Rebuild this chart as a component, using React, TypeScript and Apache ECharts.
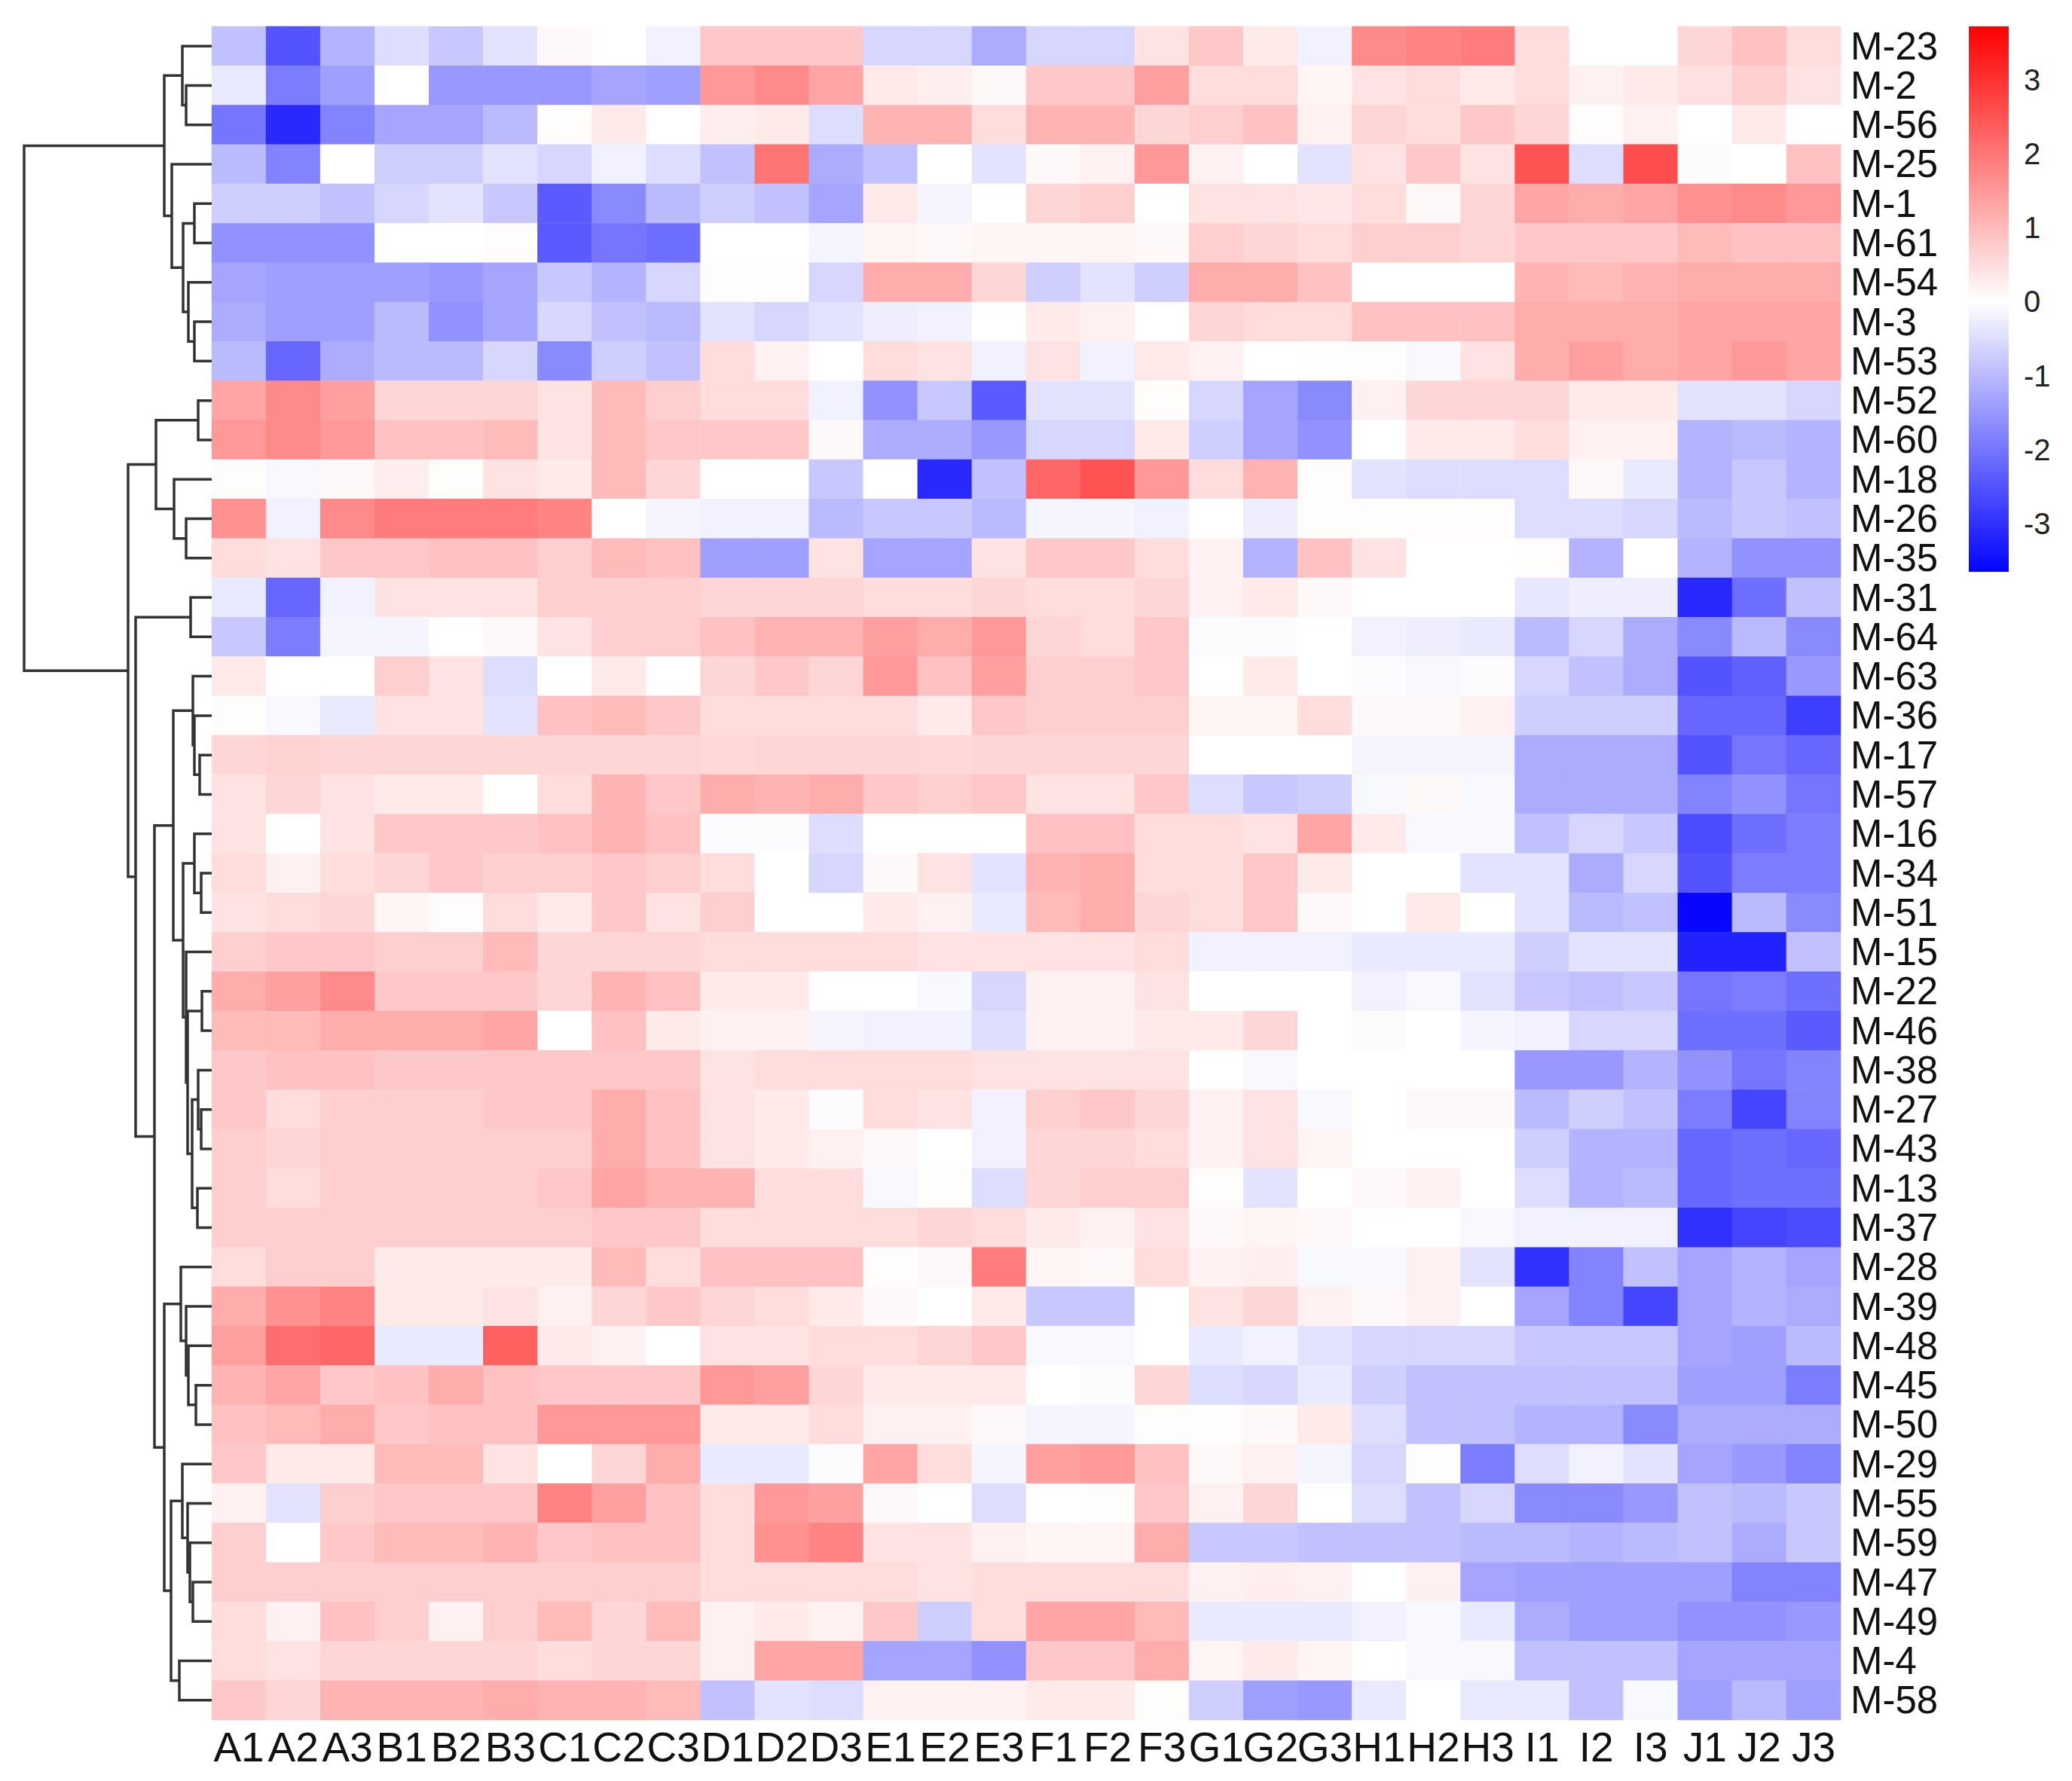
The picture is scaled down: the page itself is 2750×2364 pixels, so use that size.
import React, { useEffect, useRef } from "react";
import * as echarts from "echarts";

const COLS = ["A1","A2","A3","B1","B2","B3","C1","C2","C3","D1","D2","D3","E1","E2","E3","F1","F2","F3","G1","G2","G3","H1","H2","H3","I1","I2","I3","J1","J2","J3"];

const ROWS = ["M-23","M-2","M-56","M-25","M-1","M-61","M-54","M-3","M-53","M-52","M-60","M-18","M-26","M-35","M-31","M-64","M-63","M-36","M-17","M-57","M-16","M-34","M-51","M-15","M-22","M-46","M-38","M-27","M-43","M-13","M-37","M-28","M-39","M-48","M-45","M-50","M-29","M-55","M-59","M-47","M-49","M-4","M-58"];

// values per row (same order as ROWS), columns as COLS
const VALUES: number[][] = [
  /* M-23 */ [-0.9,-2.5,-1.1,-0.5,-0.8,-0.4,0.1,0,-0.2,0.8,0.8,0.8,-0.6,-0.6,-1.2,-0.6,-0.6,0.4,0.8,0.3,-0.2,1.7,1.8,1.9,0.5,0,0,0.6,0.9,0.5],
  /* M-2 */  [-0.3,-1.9,-1.4,0,-1.5,-1.5,-1.5,-1.3,-1.4,1.5,1.7,1.3,0.3,0.25,0.1,0.8,0.8,1.4,0.5,0.5,0.15,0.4,0.5,0.3,0.5,0.2,0.3,0.45,0.7,0.4],
  /* M-56 */ [-2.0,-3.1,-1.8,-1.3,-1.3,-1.0,0.05,0.3,0,0.25,0.3,-0.5,1.1,1.1,0.5,1.1,1.1,0.6,0.7,0.9,0.2,0.6,0.5,0.8,0.6,0.05,0.2,0,0.3,0],
  /* M-25 */ [-1.0,-1.8,0,-0.7,-0.7,-0.4,-0.6,-0.2,-0.5,-0.9,2.0,-1.2,-0.9,0,-0.4,0.1,0.2,1.5,0.2,0,-0.4,0.4,0.8,0.4,2.5,-0.5,2.6,-0.05,0,0.9],
  /* M-1 */  [-0.7,-0.7,-0.9,-0.6,-0.4,-0.8,-2.4,-1.7,-1.0,-0.7,-0.9,-1.3,0.3,-0.15,0,0.6,0.7,0,0.4,0.4,0.35,0.5,0.1,0.6,1.3,1.2,1.3,1.6,1.7,1.5],
  /* M-61 */ [-1.6,-1.6,-1.6,0,0,0.05,-2.4,-2.0,-2.1,0,0,-0.15,0.15,0.1,0.15,0.15,0.15,0.1,0.7,0.6,0.5,0.7,0.7,0.6,0.8,0.8,0.8,1.0,0.9,0.9],
  /* M-54 */ [-1.3,-1.4,-1.4,-1.4,-1.5,-1.3,-0.8,-1.1,-0.6,0.05,0.05,-0.6,1.2,1.2,0.6,-0.7,-0.4,-0.7,1.2,1.2,0.9,0,0,0,1.1,1.0,1.1,1.2,1.2,1.2],
  /* M-3 */  [-1.2,-1.4,-1.4,-1.0,-1.6,-1.3,-0.6,-0.9,-1.0,-0.4,-0.6,-0.4,-0.25,-0.2,0,0.3,0.2,0,0.6,0.5,0.5,0.9,0.9,0.9,1.2,1.2,1.2,1.3,1.3,1.3],
  /* M-53 */ [-1.0,-2.2,-1.2,-1.0,-1.0,-0.6,-1.7,-0.7,-0.9,0.5,0.2,0,0.5,0.4,-0.2,0.4,-0.2,0.3,0.2,0,0.05,0.05,-0.1,0.4,1.2,1.4,1.2,1.3,1.5,1.3],
  /* M-52 */ [1.3,1.7,1.4,0.6,0.6,0.6,0.4,1.0,0.7,0.5,0.5,-0.2,-1.6,-0.8,-2.4,-0.4,-0.4,0.05,-0.6,-1.3,-1.7,0.2,0.6,0.6,0.6,0.3,0.3,-0.4,-0.4,-0.6],
  /* M-60 */ [1.5,1.7,1.5,0.9,0.9,1.0,0.4,1.0,0.8,0.8,0.8,0.1,-1.2,-1.2,-1.5,-0.6,-0.6,0.3,-0.7,-1.3,-1.6,0,0.3,0.3,0.5,0.2,0.2,-1.1,-1.0,-1.1],
  /* M-18 */ [0.05,-0.1,0.1,0.25,0.05,0.4,0.3,1.0,0.6,0,0,-0.8,0,-3.1,-0.9,2.2,2.5,1.5,0.5,1.1,0.05,-0.4,-0.5,-0.5,-0.5,0.1,-0.3,-1.1,-0.8,-1.1],
  /* M-26 */ [1.6,-0.2,1.7,1.9,1.9,1.9,1.8,0,-0.15,-0.2,-0.2,-1.0,-0.8,-0.8,-1.0,-0.15,-0.15,-0.2,0,-0.25,0.05,0.05,0.05,0.05,-0.5,-0.5,-0.6,-1.0,-0.8,-0.9],
  /* M-35 */ [0.5,0.4,0.8,0.8,0.9,0.9,0.7,1.0,0.9,-1.4,-1.4,0.4,-1.3,-1.3,0.4,0.8,0.8,0.5,0.2,-1.1,0.9,0.4,0,0,0.05,-1.1,0,-1.1,-1.6,-1.6],
  /* M-31 */ [-0.3,-2.2,-0.2,0.4,0.4,0.4,0.7,0.7,0.7,0.6,0.6,0.6,0.5,0.5,0.6,0.5,0.5,0.6,0.2,0.3,0.1,0,0,0,-0.35,-0.25,-0.25,-3.1,-2.1,-0.9],
  /* M-64 */ [-0.8,-1.9,-0.15,-0.15,0,0.1,0.4,0.7,0.7,0.9,1.1,1.1,1.4,1.2,1.5,0.6,0.5,0.8,-0.05,-0.05,0,-0.2,-0.25,-0.3,-1.0,-0.6,-1.2,-1.7,-1.0,-1.7],
  /* M-63 */ [0.3,0,0,0.7,0.4,-0.5,0,0.3,0,0.6,0.8,0.6,1.5,0.9,1.4,0.7,0.7,0.8,0,0.3,0,-0.05,-0.1,-0.05,-0.6,-0.9,-1.2,-2.5,-2.3,-1.5],
  /* M-36 */ [0.05,-0.1,-0.3,0.4,0.4,-0.4,0.9,1.0,0.8,0.5,0.5,0.5,0.5,0.3,0.8,0.7,0.7,0.7,0.15,0.15,0.5,0.1,0.1,0.2,-0.7,-0.7,-0.7,-2.2,-2.2,-2.8],
  /* M-17 */ [0.6,0.65,0.6,0.6,0.6,0.6,0.6,0.6,0.6,0.55,0.6,0.6,0.6,0.55,0.6,0.6,0.6,0.6,0,0,0,-0.15,-0.15,-0.15,-1.2,-1.2,-1.2,-2.5,-2.0,-2.2],
  /* M-57 */ [0.4,0.6,0.4,0.3,0.3,0,0.5,1.1,0.8,1.2,1.1,1.2,0.8,0.7,0.8,0.4,0.4,0.8,-0.5,-0.8,-0.7,-0.1,0.1,-0.1,-1.2,-1.2,-1.2,-1.8,-1.6,-2.0],
  /* M-16 */ [0.4,0,0.4,0.8,0.8,0.8,0.9,1.1,0.9,-0.05,-0.05,-0.5,0,0,0,0.9,0.9,0.5,0.5,0.4,1.3,0.3,-0.1,-0.1,-0.9,-0.6,-0.8,-2.6,-2.1,-1.9],
  /* M-34 */ [0.5,0.2,0.5,0.6,0.8,0.7,0.7,0.8,0.7,0.5,0,-0.6,0.1,0.4,-0.4,1.1,1.2,0.5,0.5,0.8,0.3,0,0,-0.4,-0.4,-1.2,-0.6,-2.5,-1.9,-1.9],
  /* M-51 */ [0.4,0.5,0.6,0.15,0.05,0.5,0.3,0.8,0.4,0.7,0,0,0.3,0.2,-0.3,1.0,1.2,0.6,0.5,0.8,0.1,0,0.3,0,-0.4,-1.0,-0.9,-3.6,-1.0,-1.7],
  /* M-15 */ [0.7,0.8,0.8,0.7,0.7,1.0,0.6,0.6,0.6,0.5,0.5,0.5,0.5,0.4,0.4,0.4,0.4,0.5,-0.2,-0.2,-0.2,-0.3,-0.3,-0.3,-0.7,-0.4,-0.4,-3.2,-3.2,-0.9],
  /* M-22 */ [1.2,1.4,1.7,0.8,0.8,0.8,0.6,1.1,0.9,0.3,0.3,0,0,-0.1,-0.6,0.2,0.2,0.4,0,0,0,-0.2,-0.1,-0.4,-0.8,-0.9,-0.8,-2.0,-1.9,-2.1],
  /* M-46 */ [1.0,1.0,1.2,1.2,1.2,1.3,0,0.9,0.3,0.2,0.2,-0.15,-0.2,-0.2,-0.5,0.2,0.2,0.3,0.3,0.6,0,-0.05,0,-0.15,-0.2,-0.6,-0.6,-2.1,-2.1,-2.4],
  /* M-38 */ [0.8,0.9,0.9,0.8,0.8,0.8,0.8,0.8,0.8,0.4,0.5,0.5,0.5,0.5,0.4,0.4,0.4,0.4,0,-0.1,0,0,0,0,-1.5,-1.5,-1.1,-1.6,-2.0,-1.8],
  /* M-27 */ [0.8,0.5,0.7,0.7,0.7,0.8,0.8,1.2,0.9,0.4,0.3,-0.05,0.5,0.4,-0.2,0.7,0.8,0.6,0.2,0.4,-0.1,0,0.1,0.1,-1.0,-0.7,-0.9,-1.9,-2.7,-1.8],
  /* M-43 */ [0.7,0.6,0.7,0.7,0.7,0.7,0.7,1.2,0.9,0.4,0.3,0.2,0.1,0,-0.2,0.6,0.6,0.5,0.2,0.4,0.15,0,0,0,-0.7,-1.1,-1.1,-2.2,-2.1,-2.2],
  /* M-13 */ [0.7,0.5,0.7,0.7,0.7,0.7,0.8,1.3,1.1,1.1,0.5,0.5,-0.1,0.05,-0.5,0.6,0.7,0.7,0.05,-0.4,0,0.1,0.2,0,-0.5,-1.1,-1.0,-2.2,-2.1,-2.1],
  /* M-37 */ [0.7,0.7,0.7,0.7,0.7,0.7,0.7,0.8,0.8,0.5,0.5,0.5,0.5,0.6,0.5,0.3,0.2,0.4,0.1,0.15,0.1,0,0,-0.1,-0.2,-0.2,-0.2,-3.0,-2.7,-2.6],
  /* M-28 */ [0.5,0.7,0.7,0.3,0.3,0.3,0.3,1.0,0.5,0.9,0.9,0.9,0.05,0.1,1.9,0.15,0.1,0.5,0.2,0.25,-0.1,-0.1,0.2,-0.4,-3.0,-1.8,-0.9,-1.3,-1.1,-1.3],
  /* M-39 */ [1.2,1.6,1.8,0.3,0.3,0.4,0.2,0.6,0.8,0.6,0.5,0.3,0.1,0,0.3,-0.8,-0.8,0,0.4,0.6,0.2,0.1,0.2,0,-1.3,-1.8,-2.7,-1.3,-1.1,-1.2],
  /* M-48 */ [1.4,2.1,2.2,-0.3,-0.3,2.3,0.3,0.2,0,0.4,0.4,0.5,0.5,0.6,0.8,-0.1,-0.1,0,-0.3,-0.2,-0.4,-0.6,-0.6,-0.6,-0.8,-0.8,-0.8,-1.3,-1.4,-1.0],
  /* M-45 */ [1.1,1.3,0.8,0.9,1.2,0.9,0.8,0.8,0.8,1.5,1.4,0.6,0.3,0.3,0.3,0,-0.05,0.6,-0.5,-0.6,-0.3,-0.7,-0.9,-0.9,-0.9,-0.9,-0.9,-1.4,-1.4,-1.9],
  /* M-50 */ [0.9,1.0,1.2,0.8,0.9,0.9,1.5,1.5,1.5,0.3,0.3,0.5,0.2,0.2,0.1,-0.15,-0.15,0.05,0.05,0.1,0.3,-0.5,-0.9,-0.9,-1.1,-1.1,-1.7,-1.2,-1.2,-1.2],
  /* M-29 */ [0.8,0.3,0.3,1.0,1.0,0.4,0,0.6,1.2,-0.3,-0.3,-0.05,1.3,0.5,-0.15,1.4,1.5,0.9,0.1,0.2,-0.15,-0.6,0.05,-1.9,-0.5,-0.2,-0.4,-1.3,-1.5,-1.8],
  /* M-55 */ [0.2,-0.4,0.7,0.8,0.8,0.8,1.8,1.4,0.9,0.5,1.5,1.4,0.1,0,-0.5,0,0.05,0.8,0.2,0.6,0,-0.5,-0.9,-0.6,-1.7,-1.7,-1.5,-0.9,-1.0,-0.8],
  /* M-59 */ [0.7,0,0.8,1.0,1.0,1.1,0.8,0.9,0.9,0.5,1.6,1.8,0.4,0.4,0.2,0.15,0.15,1.2,-0.8,-0.8,-0.9,-0.9,-0.9,-1.0,-1.0,-1.1,-1.0,-0.9,-1.2,-0.8],
  /* M-47 */ [0.7,0.7,0.7,0.7,0.7,0.7,0.7,0.7,0.7,0.5,0.5,0.5,0.5,0.4,0.5,0.5,0.5,0.5,0.2,0.25,0.2,0,0.2,-1.3,-1.4,-1.4,-1.4,-1.4,-1.8,-1.8],
  /* M-49 */ [0.5,0.2,0.9,0.7,0.2,0.7,1.0,0.6,1.0,0.2,0.3,0.2,0.8,-0.7,0.5,1.3,1.3,1.0,-0.3,-0.3,-0.3,-0.2,-0.1,-0.3,-1.2,-1.4,-1.4,-1.6,-1.6,-1.5],
  /* M-4 */  [0.5,0.4,0.6,0.6,0.6,0.6,0.5,0.6,0.6,0.2,1.3,1.3,-1.3,-1.3,-1.6,0.8,0.8,1.2,0.15,0.3,0.15,0,-0.1,-0.1,-0.9,-0.9,-0.9,-1.3,-1.3,-1.3],
  /* M-58 */ [0.8,0.6,1.1,1.1,1.1,1.2,1.1,1.1,1.0,-0.9,-0.4,-0.5,0.2,0.2,0.2,0.3,0.3,0.05,-0.7,-1.4,-1.5,-0.3,0,-0.3,-0.3,-0.9,-0.1,-1.4,-1.0,-1.4],
];

// Row dendrogram merges: [left, right, height]; a string is a leaf (row label), a number is an earlier merge
const MERGES: [string | number, string | number, number][] = [
  ["M-2", "M-56", 34],   // 0
  ["M-23", 0, 39],       // 1
  ["M-1", "M-61", 23],   // 2
  ["M-3", "M-53", 23],   // 3
  ["M-54", 3, 31],       // 4
  [2, 4, 38],            // 5
  ["M-25", 5, 53],       // 6
  [1, 6, 63],            // 7
  ["M-52", "M-60", 18],  // 8
  ["M-26", "M-35", 34],  // 9
  ["M-18", 9, 50],       // 10
  [8, 10, 74],           // 11
  ["M-31", "M-64", 28],  // 12
  ["M-17", "M-57", 16],  // 13
  ["M-36", 13, 23],      // 14
  ["M-63", 14, 25],      // 15
  ["M-34", "M-51", 14],  // 16
  ["M-16", 16, 23],      // 17
  ["M-22", "M-46", 13],  // 18
  ["M-27", "M-43", 14],  // 19
  ["M-38", 19, 18],      // 20
  ["M-13", "M-37", 19],  // 21
  [20, 21, 26],          // 22
  [18, 22, 32],          // 23
  ["M-15", 23, 34],      // 24
  [17, 24, 38],          // 25
  [15, 25, 51],          // 26
  ["M-45", "M-50", 21],  // 27
  ["M-48", 27, 31],      // 28
  ["M-39", 28, 34],      // 29
  ["M-28", 29, 41],      // 30
  ["M-47", "M-49", 25],  // 31
  ["M-59", 31, 29],      // 32
  ["M-55", 32, 32],      // 33
  ["M-29", 33, 39],      // 34
  ["M-4", "M-58", 43],   // 35
  [34, 35, 54],          // 36
  [30, 36, 63],          // 37
  [26, 37, 76],          // 38
  [12, 38, 101],         // 39
  [11, 39, 111],         // 40
  [7, 40, 249],          // 41
];

const COLORBAR_TICKS = [-3, -2, -1, 0, 1, 2, 3];
const CB_MIN = -3.65;
const CB_MAX = 3.72;
const VM_LIMIT = 3.7;

function colorOf(v: number): string {
  const t = Math.min(1, Math.abs(v) / VM_LIMIT);
  const c = Math.round(255 * (1 - t));
  return v >= 0 ? `rgb(255,${c},${c})` : `rgb(${c},${c},255)`;
}

const FONT = "'Liberation Sans', Arial, Helvetica, sans-serif";

export default function App() {
  const ref = useRef<HTMLDivElement>(null);
  useEffect(() => {
    if (!ref.current) return;
    const chart = echarts.init(ref.current, undefined, { renderer: "svg" });

    const heatData: [number, number, number][] = [];
    VALUES.forEach((row, r) => row.forEach((v, c) => heatData.push([c, r, v])));

    const pos: { y: number; h: number }[] = [];
    const resolve = (n: string | number) =>
      typeof n === "string" ? { y: ROWS.indexOf(n), h: 0 } : pos[n];
    const dendroData: number[][] = [];
    MERGES.forEach(([a, b, h]) => {
      const pa = resolve(a);
      const pb = resolve(b);
      pos.push({ y: (pa.y + pb.y) / 2, h });
      dendroData.push([h, pa.y, pb.y, pa.h, pb.h]);
    });

    const option: any = {
      animation: false,
      backgroundColor: "#ffffff",
      grid: [
        { left: 281, top: 35, width: 2162, height: 2248 },
        { left: 31, top: 35, width: 250, height: 2248 },
        { left: 2613, top: 35, width: 53, height: 724 },
      ],
      xAxis: [
        {
          type: "category", gridIndex: 0, data: COLS, position: "bottom",
          axisLine: { show: false }, axisTick: { show: false }, splitLine: { show: false },
          axisLabel: { interval: 0, fontSize: 55, margin: 8, color: "#111", fontFamily: FONT },
        },
        { type: "value", gridIndex: 1, min: 0, max: 250, inverse: true, show: false },
        { type: "value", gridIndex: 2, min: 0, max: 1, show: false },
      ],
      yAxis: [
        {
          type: "category", gridIndex: 0, data: ROWS, inverse: true, position: "right",
          axisLine: { show: false }, axisTick: { show: false }, splitLine: { show: false },
          axisLabel: { interval: 0, fontSize: 51, lineHeight: 51, margin: 13, color: "#111", fontFamily: FONT },
        },
        { type: "value", gridIndex: 1, min: -0.5, max: ROWS.length - 0.5, inverse: true, show: false },
        {
          type: "value", gridIndex: 2, min: CB_MIN, max: CB_MAX, position: "right",
          axisLine: { show: false }, axisTick: { show: false }, splitLine: { show: false },
          axisLabel: { customValues: COLORBAR_TICKS, fontSize: 40, margin: 20, color: "#222", fontFamily: FONT },
        },
      ],
      visualMap: {
        show: false, seriesIndex: 0, min: -VM_LIMIT, max: VM_LIMIT, calculable: false,
        inRange: { color: ["#0000ff", "#ffffff", "#ff0000"] },
      },
      series: [
        {
          type: "heatmap", xAxisIndex: 0, yAxisIndex: 0, data: heatData,
          itemStyle: { borderWidth: 0 }, emphasis: { disabled: true },
        },
        {
          type: "custom", xAxisIndex: 1, yAxisIndex: 1, clip: false,
          encode: { x: [0, 3, 4], y: [1, 2] },
          data: dendroData,
          renderItem: (_p: any, api: any) => {
            const h = api.value(0), ya = api.value(1), yb = api.value(2), ha = api.value(3), hb = api.value(4);
            const pts = [api.coord([ha, ya]), api.coord([h, ya]), api.coord([h, yb]), api.coord([hb, yb])];
            return { type: "polyline", shape: { points: pts }, style: { stroke: "#333333", lineWidth: 3.5, fill: null } };
          },
        },
        {
          type: "custom", xAxisIndex: 2, yAxisIndex: 2, clip: false,
          encode: { x: [0, 2], y: [1, 3] },
          data: [[0, CB_MIN, 1, CB_MAX]],
          renderItem: (_p: any, api: any) => {
            const tl = api.coord([api.value(0), api.value(3)]);
            const br = api.coord([api.value(2), api.value(1)]);
            const zeroOff = CB_MAX / (CB_MAX - CB_MIN);
            return {
              type: "rect",
              shape: { x: tl[0], y: tl[1], width: br[0] - tl[0], height: br[1] - tl[1] },
              style: {
                fill: new echarts.graphic.LinearGradient(0, 0, 0, 1, [
                  { offset: 0, color: colorOf(CB_MAX) },
                  { offset: zeroOff, color: "#ffffff" },
                  { offset: 1, color: colorOf(CB_MIN) },
                ]),
              },
            };
          },
        },
      ],
    };
    chart.setOption(option);
    return () => chart.dispose();
  }, []);

  return (
    <div
      ref={ref}
      style={{ position: "absolute", left: 0, top: 0, width: 2750, height: 2364 }}
    />
  );
}
